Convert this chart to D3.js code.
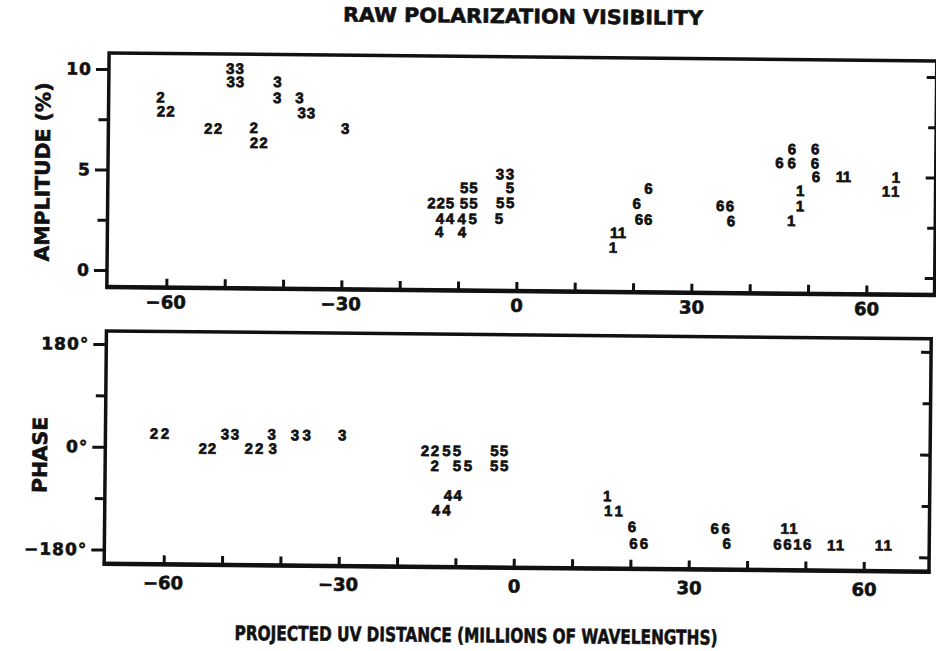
<!DOCTYPE html>
<html>
<head>
<meta charset="utf-8">
<script src="https://cdn.jsdelivr.net/npm/d3@7"></script>
<style>
  body { margin: 0; background: #fff; }
  svg text { font-family: "DejaVu Sans", sans-serif; font-weight: bold; fill: #111; stroke: #111; stroke-width: 0.6px; }
  svg text.digit { font-family: "Liberation Sans", Arial, sans-serif; stroke-width: 0.7px; }
</style>
</head>
<body>
<div id="chart"></div>
<script>
// Each point is one plotted digit (the baseline number): [uv distance in Mλ, value]
const baselines = ["1", "2", "3", "4", "5", "6"];

// amplitude (%)
const amp1 = [[16.7, 2.10], [18.0, 2.10], [16.5, 1.37], [55.3, 5.0], [56.5, 5.0], [64.9, 4.99],
              [63.2, 4.29], [64.8, 4.29], [48.5, 4.28], [48.5, 3.52], [47.0, 2.78]];
const amp2 = [[-61.3, 8.62], [-61.2, 7.93], [-59.6, 7.93], [-53.1, 7.10], [-51.4, 7.10], [-45.3, 7.15],
              [-45.2, 6.41], [-43.6, 6.41], [-14.7, 3.50], [-13.1, 3.50]];
const amp3 = [[-49.4, 10.09], [-47.8, 10.09], [-49.3, 9.43], [-47.7, 9.43], [-41.3, 9.45], [-41.3, 8.66],
              [-37.5, 8.67], [-37.1, 7.92], [-35.5, 7.92], [-29.6, 7.16], [-3.0, 4.97], [-1.3, 4.97]];
const amp4 = [[-13.2, 2.73], [-11.5, 2.73], [-9.5, 2.73], [-13.3, 2.07], [-9.4, 2.07]];
const amp5 = [[-1.25, 4.29], [-9.1, 4.27], [-7.5, 4.27], [-11.5, 3.50], [-9.1, 3.50], [-7.5, 3.50],
              [-2.9, 3.54], [-1.2, 3.54], [-7.6, 2.73], [-3.1, 2.76]];
const amp6 = [[22.5, 4.32], [20.5, 3.57], [20.9, 2.78], [22.5, 2.78], [47.0, 6.35], [51.0, 6.36],
              [44.9, 5.66], [47.0, 5.66], [51.0, 5.65], [51.2, 4.98], [34.8, 3.49], [36.5, 3.49], [36.7, 2.74]];

// phase (degrees)
const ph1 = [[15.9, -77.8], [16.1, -103.6], [17.9, -103.5], [46.4, -131.4], [47.9, -131.4], [48.6, -158.8],
             [54.4, -159.9], [55.9, -159.7], [62.6, -159.1], [64.1, -159.1]];
const ph2 = [[-61.9, 24.4], [-60.0, 24.6], [-53.5, -1.0], [-51.9, -1.0], [-45.6, -0.3], [-43.8, -0.1],
             [-15.4, -1.5], [-13.7, -1.3], [-13.7, -27.6]];
const ph3 = [[-49.7, 24.4], [-48.0, 24.4], [-41.7, 25.1], [-41.5, 0.1], [-37.7, 23.8], [-35.7, 24.1], [-29.6, 24.6]];
const ph4 = [[-11.4, -78.8], [-9.7, -78.6], [-13.4, -105.2], [-11.6, -105.0]];
const ph5 = [[-11.7, -1.2], [-9.9, -1.0], [-3.5, -0.3], [-1.85, -0.3], [-9.9, -27.3], [-8.0, -27.1],
             [-3.5, -26.6], [-1.8, -26.4]];
const ph6 = [[20.2, -131.2], [20.5, -160.2], [22.3, -160.1], [34.4, -132.6], [36.3, -132.4], [36.5, -158.7],
             [45.2, -159.1], [46.9, -159.0], [50.3, -158.6]];

const ampSeries = [amp1, amp2, amp3, amp4, amp5, amp6];
const phSeries = [ph1, ph2, ph3, ph4, ph5, ph6];

// ticks
const xTicks = [-60, -50, -40, -30, -20, -10, 0, 10, 20, 30, 40, 50, 60];
const xTickLabels = { "-60": "\u221260", "-30": "\u221230", "0": "0", "30": "30", "60": "60" };
const ampTicks = [0, 2.5, 5, 7.5, 10];
const ampTickLabels = { "0": "0", "5": "5", "10": "10" };
const phTicks = [-180, -90, 0, 90, 180];
const phTickLabels = { "-180": "\u2212180\u00b0", "0": "0\u00b0", "180": "180\u00b0" };

const title = "RAW POLARIZATION VISIBILITY";
const ampTitle = "AMPLITUDE (%)";
const phTitle = "PHASE";
const xTitle = "PROJECTED UV DISTANCE (MILLIONS OF WAVELENGTHS)";

const W = 936, H = 651;
const svg = d3.select('#chart').append('svg').attr('width', W).attr('height', H);
svg.append('rect').attr('width', W).attr('height', H).attr('fill', '#fff');

// the scanned figure is slightly tilted
const root = svg.append('g').attr('transform', 'rotate(0.55, 468, 325)');

const x = d3.scaleLinear().domain([-60, 60]).range([166, 866]);
const yAmp = d3.scaleLinear().domain([0, 10]).range([273.5, 72.5]);
const yPh = d3.scaleLinear().domain([-180, 180]).range([553, 347.5]);

const panels = [
  { y: yAmp, ext: [-0.85, 10.8], xr: 71.7, series: ampSeries, ticks: ampTicks, labels: ampTickLabels,
    major: [0, 5, 10], pad: 8, title: ampTitle, titleY: 176, titleLen: 179 },
  { y: yPh, ext: [-205, 203], xr: 71.2, series: phSeries, ticks: phTicks, labels: phTickLabels,
    major: [-180, 0, 180], pad: 12, title: phTitle, titleY: 459, titleLen: 76 }
];

panels.forEach(p => {
  const g = root.append('g');
  const x0 = x(-70.2), x1 = x(p.xr);
  const y0 = p.y(p.ext[1]), y1 = p.y(p.ext[0]);

  // x axis: ticks point up into the frame
  const xAxis = d3.axisBottom(x)
    .tickValues(xTicks)
    .tickSize(-9)
    .tickPadding(p.pad)
    .tickFormat(d => xTickLabels[d] || '');
  const xg = g.append('g').attr('transform', `translate(0,${y1})`).call(xAxis);
  xg.select('.domain').remove();
  xg.selectAll('line').attr('stroke', '#111').attr('stroke-width', 3);
  xg.selectAll('text').attr('font-size', 18).attr('dx', d => d < 0 ? -1 : 0)
    .attr('font-family', '"DejaVu Sans", sans-serif').attr('font-weight', 'bold').attr('fill', '#111');

  // left y axis: ticks outward
  const yAxisL = d3.axisLeft(p.y)
    .tickValues(p.ticks)
    .tickSize(0)
    .tickPadding(17)
    .tickFormat(d => p.labels[d] || '');
  const yl = g.append('g').attr('transform', `translate(${x0},0)`).call(yAxisL);
  yl.select('.domain').remove();
  yl.selectAll('.tick line')
    .attr('x2', d => p.major.includes(d) ? -13 : -10)
    .attr('stroke', '#111').attr('stroke-width', 3);
  yl.selectAll('text').attr('font-size', 17).attr('letter-spacing', 1)
    .attr('font-family', '"DejaVu Sans", sans-serif').attr('font-weight', 'bold').attr('fill', '#111');

  // right y axis: ticks inward, no labels
  const yAxisR = d3.axisRight(p.y).tickValues(p.ticks).tickSize(0).tickFormat('');
  const yr = g.append('g').attr('transform', `translate(${x1},0)`).call(yAxisR);
  yr.select('.domain').remove();
  yr.selectAll('.tick line')
    .attr('x2', d => p.major.includes(d) ? -10 : -8)
    .attr('stroke', '#111').attr('stroke-width', 3);

  // frame
  g.append('rect')
    .attr('x', x0).attr('y', y0)
    .attr('width', x1 - x0).attr('height', y1 - y0)
    .attr('fill', 'none').attr('stroke', '#111').attr('stroke-width', 3.5);
  g.append('line')
    .attr('x1', x0 - 1.5).attr('x2', x1 + 1.5).attr('y1', y1).attr('y2', y1)
    .attr('stroke', '#111').attr('stroke-width', 4.5);

  // digits
  p.series.forEach((pts, i) => {
    g.append('g').selectAll('text')
      .data(pts)
      .join('text')
      .attr('class', 'digit')
      .attr('x', d => x(d[0]))
      .attr('y', d => p.y(d[1]))
      .attr('dy', '0.36em')
      .attr('text-anchor', 'middle')
      .attr('font-size', 15)
      .text(baselines[i]);
  });

  // y title
  g.append('text')
    .attr('transform', `translate(41,${p.titleY}) rotate(-90)`)
    .attr('text-anchor', 'middle')
    .attr('dy', '0.36em')
    .attr('font-size', 20)
    .attr('textLength', p.titleLen)
    .attr('lengthAdjust', 'spacingAndGlyphs')
    .text(p.title);
});

root.append('text')
  .attr('x', 520).attr('y', 15.5).attr('dy', '0.36em')
  .attr('text-anchor', 'middle')
  .attr('font-size', 20)
  .attr('textLength', 360)
  .attr('lengthAdjust', 'spacingAndGlyphs')
  .text(title);

root.append('text')
  .attr('x', 479).attr('y', 635).attr('dy', '0.36em')
  .attr('text-anchor', 'middle')
  .attr('font-size', 20)
  .attr('textLength', 483)
  .attr('lengthAdjust', 'spacingAndGlyphs')
  .text(xTitle);
</script>
</body>
</html>
